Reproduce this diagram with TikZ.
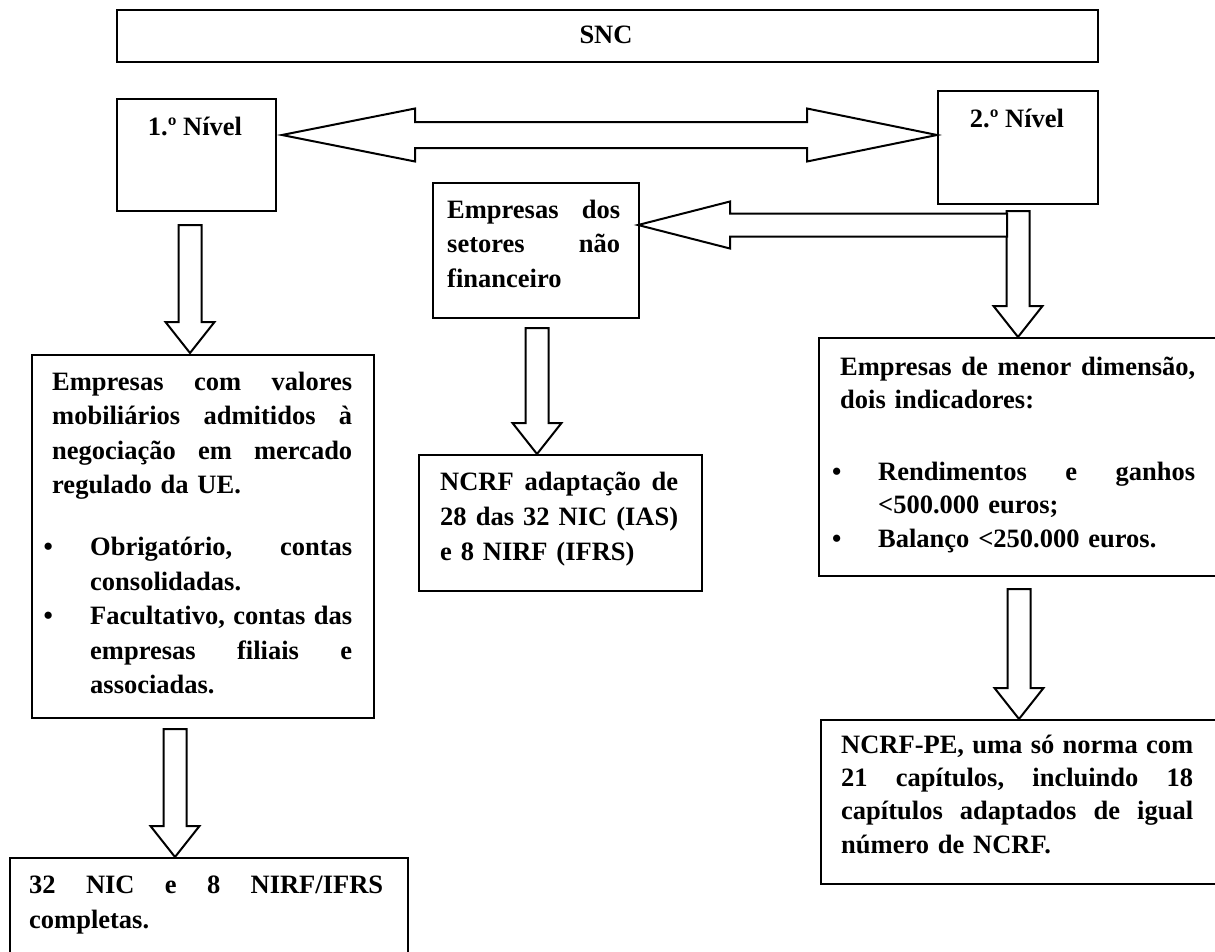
\documentclass[tikz,border=0pt]{standalone}
\usepackage{fontspec}
\setmainfont{Liberation Serif}
\usetikzlibrary{calc}
\newcommand\fstrut{\rule{0pt}{22pt}}
\newcommand\bulA{\hspace*{-8.5pt}\makebox[46.5pt][l]{\textbullet}}
\newcommand\indA{\hspace*{38pt}}
\newcommand\bulB{\hspace*{-8pt}\makebox[46pt][l]{\textbullet}}
\newcommand\indB{\hspace*{38pt}}
% vertical block arrow: start, tip
\newcommand\dblk[2]{\draw[blk] let \p1=(#1), \p2=(#2) in
  (\x2-11.5pt,\y1) -- (\x2+11.5pt,\y1) -- (\x2+11.5pt,\y2+31pt) -- (\x2+24.5pt,\y2+31pt)
  -- (\x2,\y2) -- (\x2-24.5pt,\y2+31pt) -- (\x2-11.5pt,\y2+31pt) -- cycle;}
\tikzset{
  box/.style={draw, line width=2.2pt, inner sep=0pt, anchor=north west},
  blk/.style={draw, line width=2pt, fill=white, line join=miter},
  txt/.style={anchor=north west, inner sep=0pt, align=left},
  lbl/.style={anchor=base, inner sep=0pt, font=\fontsize{26.5}{32}\selectfont\bfseries},
}
\begin{document}
\begin{tikzpicture}[x=1pt,y=-1pt]
\useasboundingbox (0,0) rectangle (1215,951);
\clip (0,0) rectangle (1215,951);
\fill[white] (0,0) rectangle (1215,951);

% boxes
\node[box, minimum width=981pt, minimum height=52pt] (snc) at (116,9) {};
\node[box, minimum width=159pt, minimum height=112pt] (n1) at (116,98) {};
\node[box, minimum width=160pt, minimum height=113pt] (n2) at (937,90) {};
\node[box, minimum width=342pt, minimum height=363pt] (e1) at (31,354) {};
\node[box, minimum width=398pt, minimum height=120pt] (e2) at (9,857) {};
\node[box, minimum width=206pt, minimum height=135pt] (s1) at (432,182) {};
\node[box, minimum width=283pt, minimum height=136pt] (s2) at (418,454) {};
\node[box, minimum width=404pt, minimum height=238pt] (m1) at (818,337) {};
\node[box, minimum width=404pt, minimum height=164pt] (m2) at (820,719) {};

% labels
\node[lbl] (sncT) at (606,43) {SNC};
\node[lbl] (n1T) at (195,135) {1.º Nível};
\node[lbl] (n2T) at (1017,127) {2.º Nível};

\node[txt, text width=300pt, font=\fontsize{26.5}{34.5}\selectfont\bfseries] (e1T) at (52,368)
 {\fstrut Empresas\hfill com\hfill valores\\
  mobiliários\hfill admitidos\hfill à\\
  negociação\hfill em\hfill mercado\\
  regulado da UE.\\[27.5pt]
  \bulA Obrigatório,\hfill contas\\
  \indA consolidadas.\\
  \bulA Facultativo,\hfill contas\hfill das\\
  \indA empresas\hfill filiais\hfill e\\
  \indA associadas.};

\node[txt, text width=354pt, font=\fontsize{26.5}{35}\selectfont\bfseries] (e2T) at (29,871)
 {\fstrut 32\hfill NIC\hfill e\hfill 8\hfill NIRF/IFRS\\
  completas.};

\node[txt, text width=173pt, font=\fontsize{26.5}{34.5}\selectfont\bfseries] (s1T) at (447,196)
 {\fstrut Empresas\hfill dos\\
  setores\hfill não\\
  financeiro};

\node[txt, text width=238pt, font=\fontsize{26.5}{35}\selectfont\bfseries] (s2T) at (440,468)
 {\fstrut NCRF\hfill adaptação\hfill de\\
  28\hfill das\hfill 32\hfill NIC\hfill (IAS)\\
  e 8 NIRF (IFRS)};

\node[txt, text width=355pt, font=\fontsize{26.5}{33.5}\selectfont\bfseries] (m1T) at (840,353)
 {\fstrut Empresas\hfill de\hfill menor\hfill dimensão,\\
  dois indicadores:\\[38pt]
  \bulB Rendimentos\hfill e\hfill ganhos\\
  \indB <500.000 euros;\\
  \bulB Balanço <250.000 euros.};

\node[txt, text width=352pt, font=\fontsize{26.5}{33.3}\selectfont\bfseries] (m2T) at (841,731)
 {\fstrut NCRF-PE,\hfill uma\hfill só\hfill norma\hfill com\\
  21\hfill capítulos,\hfill incluindo\hfill 18\\
  capítulos\hfill adaptados\hfill de\hfill igual\\
  número de NCRF.};

% connector end points
\coordinate (hL) at (282,135);
\coordinate (hR) at (937,135);
\coordinate (lS) at (1007,225);
\coordinate (lT) at (638,225);
\coordinate (d1s) at (190,225);
\coordinate (d1t) at (190,353);
\coordinate (d2s) at (175,729);
\coordinate (d2t) at (175,857);
\coordinate (d3s) at (537,328);
\coordinate (d3t) at (537,454);
\coordinate (d4s) at (1018,211);
\coordinate (d4t) at (1018,337);
\coordinate (d5s) at (1019,589);
\coordinate (d5t) at (1019,719);

% double block arrow between levels
\draw[blk] let \p1=(hL), \p2=(hR) in
  (\x1,\y1) -- (\x1+133pt,\y1+26.5pt) -- (\x1+133pt,\y1+13pt) -- (\x2-130pt,\y1+13pt)
  -- (\x2-130pt,\y1+26.5pt) -- (\x2,\y1) -- (\x2-130pt,\y1-26.5pt) -- (\x2-130pt,\y1-13pt)
  -- (\x1+133pt,\y1-13pt) -- (\x1+133pt,\y1-26.5pt) -- cycle;

% down arrow from level 2 (drawn first so the left arrow's end overlaps)
\dblk{d4s}{d4t}
% left block arrow to non-financial sectors
\draw[blk] let \p1=(lS), \p2=(lT) in
  (\x1,\y2+11.5pt) -- (\x2+92pt,\y2+11.5pt) -- (\x2+92pt,\y2+23.5pt) -- (\x2,\y2)
  -- (\x2+92pt,\y2-23.5pt) -- (\x2+92pt,\y2-11.5pt) -- (\x1,\y2-11.5pt) -- cycle;

\dblk{d1s}{d1t}
\dblk{d2s}{d2t}
\dblk{d3s}{d3t}
\dblk{d5s}{d5t}
\end{tikzpicture}
\end{document}
